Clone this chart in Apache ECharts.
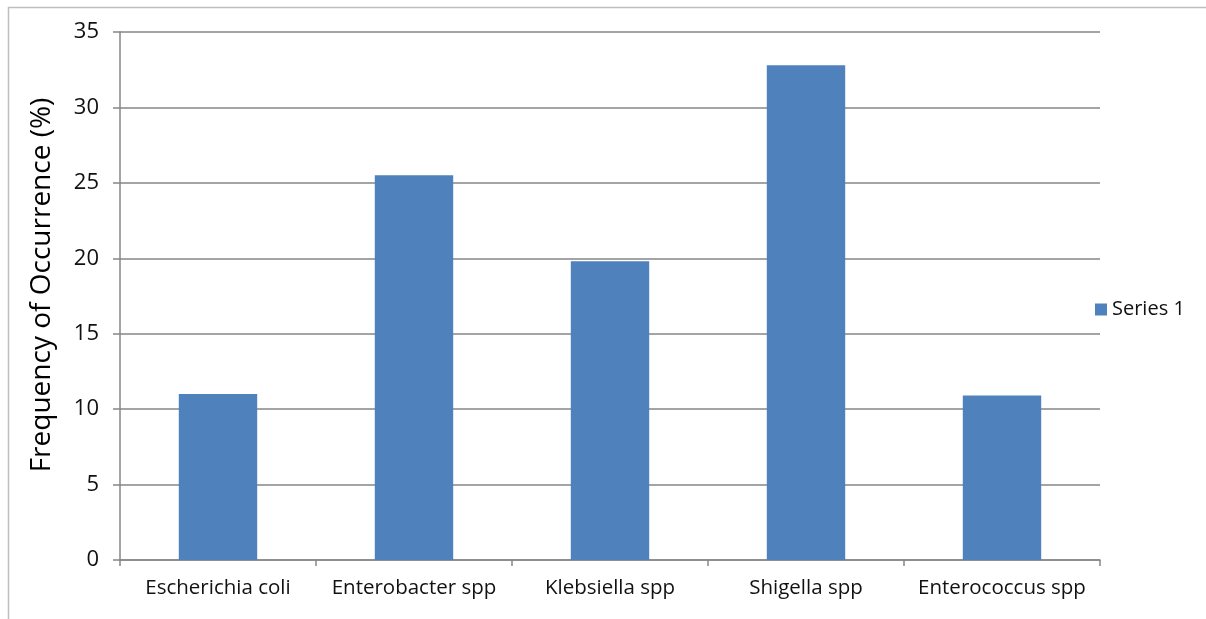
<!DOCTYPE html>
<html>
<head>
<meta charset="utf-8">
<script src="https://cdn.jsdelivr.net/npm/echarts@6/dist/echarts.min.js"></script>
<style>
  html, body { margin: 0; padding: 0; background: #fff; }
  #main { width: 1206px; height: 619px; }
</style>
</head>
<body>
<div id="main"></div>
<script>
const categories = ['Escherichia coli', 'Enterobacter spp', 'Klebsiella spp', 'Shigella spp', 'Enterococcus spp'];
const series1 = [11.0, 25.5, 19.8, 32.8, 10.9];
const yTicks = [0, 5, 10, 15, 20, 25, 30, 35];

const myChart = echarts.init(document.getElementById('main'));

const fontFamily = '"Open Sans", "Liberation Sans", sans-serif';

myChart.setOption({
  animation: false,
  color: ['#4F81BD'],
  textStyle: { fontFamily: fontFamily },
  graphic: [
    {
      type: 'rect',
      shape: { x: 8.5, y: 7.5, width: 1210, height: 620 },
      style: { fill: 'none', stroke: '#BFBFBF', lineWidth: 1.5 },
      silent: true,
    },
  ],
  grid: { left: 120, right: 106, top: 32, bottom: 59 },
  legend: {
    left: 1090,
    top: 'middle',
    orient: 'vertical',
    icon: 'rect',
    itemWidth: 12,
    itemHeight: 12,
    itemGap: 6,
    textStyle: { fontSize: 20, color: '#111', fontFamily: fontFamily },
  },
  xAxis: {
    type: 'category',
    data: categories,
    axisLine: { lineStyle: { color: '#868686', width: 1.5 } },
    axisTick: { show: true, length: 6, interval: 0, lineStyle: { color: '#868686', width: 1.5 } },
    axisLabel: { fontSize: 20.5, color: '#111', margin: 18, interval: 0 },
  },
  yAxis: {
    type: 'value',
    min: yTicks[0],
    max: yTicks[yTicks.length - 1],
    interval: 5,
    name: 'Frequency of Occurrence (%)',
    nameLocation: 'middle',
    nameGap: 64,
    nameTextStyle: { fontSize: 28, color: '#000', fontFamily: fontFamily, padding: [0, 0, 0, 22] },
    axisLine: { show: true, lineStyle: { color: '#868686', width: 1.5 } },
    axisTick: { show: true, length: 7, lineStyle: { color: '#868686', width: 1.5 } },
    axisLabel: { fontSize: 22, color: '#111', margin: 21 },
    splitLine: { lineStyle: { color: '#868686', width: 1.5 } },
  },
  series: [
    {
      name: 'Series 1',
      type: 'bar',
      barWidth: '40%',
      data: series1,
    },
  ],
});
</script>
</body>
</html>
